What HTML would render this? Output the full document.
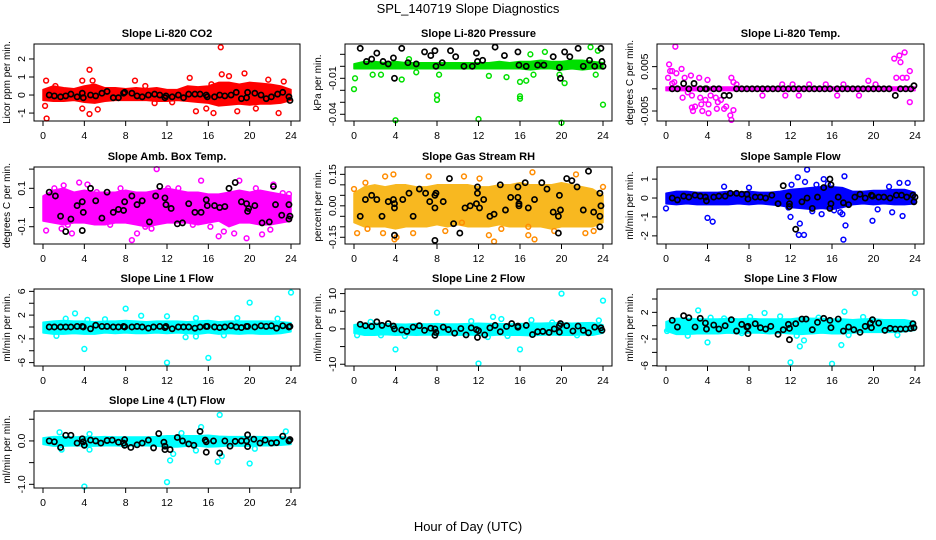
<!DOCTYPE html>
<html><head><meta charset="utf-8"><style>
html,body{margin:0;padding:0;background:#fff;}
svg{display:block;font-family:"Liberation Sans",sans-serif;}
</style></head><body>
<svg id="c" width="936" height="540" viewBox="0 0 936 540">
<text x="468" y="13" text-anchor="middle" font-size="13">SPL_140719  Slope Diagnostics</text>
<text x="468" y="531" text-anchor="middle" font-size="13">Hour of Day (UTC)</text>
</svg>
<script>
const xTicks=[0,4,8,12,16,20,24];
const bandHours=[0,1,2,3,4,5,6,7,8,9,10,11,12,13,14,15,16,17,18,19,20,21,22,23,24];

const p1Lo=[-0.3,-0.35,-0.35,-0.3,-0.4,-0.45,-0.35,-0.3,-0.3,-0.3,-0.3,-0.35,-0.35,-0.3,-0.35,-0.4,-0.45,-0.6,-0.55,-0.5,-0.55,-0.5,-0.5,-0.45,-0.3];
const p1Hi=[0.3,0.5,0.4,0.35,0.5,0.6,0.4,0.4,0.35,0.4,0.35,0.4,0.3,0.3,0.5,0.45,0.5,0.7,0.7,0.6,0.7,0.65,0.6,0.5,0.3];
const p1Pts=[[0.2,-0.6],[0.3,0.8],[0.35,-1.3],[3.8,0.8],[3.8,-0.75],[4.5,1.4],[4.5,-1.05],[5.3,-0.8],[8.9,0.8],[10.8,-0.45],[12.5,-0.4],[14.8,-0.9],[15.8,-0.75],[16.5,-1.0],[17.2,2.65],[17.3,1.15],[18,1.05],[18.8,-0.9],[19.5,1.2],[20.6,-0.75],[21.8,0.85],[22.8,-1.0],[23.3,0.75],[14.2,0.95],[4.8,0.8],[1.2,0.5],[9.9,0.5],[16.3,0.6]];
const p1Blk=[[0.6,0.0],[1.1,-0.05],[1.7,-0.1],[2.2,-0.05],[2.7,0.05],[3.3,-0.1],[3.8,0.1],[3.9,-0.15],[4.6,0.0],[5.1,-0.05],[5.7,0.1],[6.2,0.2],[6.8,-0.15],[7.3,-0.15],[7.8,0.1],[7.9,0.15],[8.6,0.1],[9.1,-0.05],[9.6,-0.1],[10.2,0.0],[10.8,0.05],[11.3,0.0],[11.8,-0.15],[11.9,-0.05],[12.5,-0.1],[13.1,0.0],[13.6,-0.15],[14.1,0.05],[14.7,0.05],[15.2,0.05],[15.8,0.0],[15.9,-0.1],[16.6,-0.1],[17.1,0.0],[17.6,-0.05],[18.2,0.0],[18.7,0.15],[19.2,-0.2],[19.7,-0.15],[19.8,0.15],[20.5,0.1],[21.1,0.0],[21.6,-0.2],[22.1,-0.1],[22.7,0.05],[23.2,0.15],[23.8,-0.1],[23.9,-0.3]];

const p2Lo=[-0.002,-0.002,-0.002,-0.002,-0.002,-0.002,-0.002,-0.002,-0.002,-0.002,-0.002,-0.002,-0.002,-0.002,-0.002,-0.002,-0.002,-0.003,-0.002,-0.002,-0.003,-0.002,-0.003,-0.002,-0.002];
const p2Hi=[0.002,0.004,0.004,0.003,0.004,0.003,0.003,0.003,0.003,0.003,0.003,0.003,0.003,0.003,0.004,0.003,0.004,0.004,0.005,0.004,0.004,0.005,0.005,0.004,0.003];
const p2Pts=[[0.1,-0.01],[0,-0.019],[1.8,-0.007],[4,-0.045],[4.6,-0.011],[8,-0.024],[8,-0.028],[8.2,-0.007],[12,-0.044],[13,-0.008],[14.7,-0.009],[16,-0.013],[16,-0.025],[16,-0.027],[16.6,-0.012],[18.4,0.012],[19.8,-0.007],[20,-0.047],[20.3,-0.014],[22.8,0.016],[23.3,-0.007],[24,-0.032],[23.5,0.013],[17,0.01],[5.3,0.006],[2.6,-0.007],[6,-0.005],[17.3,-0.007]];
const p2Blk=[[0.6,0.015],[1.2,0.004],[1.7,0.006],[2.2,0.011],[2.8,0.004],[3.3,0.002],[3.8,0.007],[3.9,-0.01],[4.6,0.015],[5.2,0.003],[6,0.002],[6.8,0.012],[7.4,0.009],[7.8,0.013],[7.9,0.0],[8.5,0.003],[9.3,0.013],[9.8,0.008],[10.6,0.0],[11.4,0.0],[11.8,0.011],[11.9,0.004],[12.4,0.005],[13.6,0.016],[14.5,0.009],[15.8,0.012],[15.9,0.001],[16.6,0.0],[17.7,0.001],[18.3,0.001],[19.2,0.008],[19.8,-0.001],[19.9,-0.01],[20.3,0.012],[20.8,0.008],[21.6,0.015],[22.1,0.0],[22.7,0.005],[23.2,0.0],[23.8,0.015],[23.9,0.004],[24,0.0]];

const p3Lo=[-0.0004,-0.0004,-0.0004,-0.0004,-0.0004,-0.0004,-0.0004,-0.0004,-0.0004,-0.0004,-0.0004,-0.0004,-0.0004,-0.0004,-0.0004,-0.0004,-0.0004,-0.0004,-0.0004,-0.0004,-0.0004,-0.0004,-0.0004,-0.0004,-0.0004];
const p3Hi=[0.0004,0.0004,0.0004,0.0004,0.0004,0.0004,0.0004,0.0004,0.0004,0.0004,0.0004,0.0004,0.0004,0.0004,0.0004,0.0004,0.0004,0.0004,0.0004,0.0004,0.0004,0.0004,0.0004,0.0004,0.0004];
const p3Pts=[[0.2,0.0025],[0.3,0.0055],[0.4,0.004],[0.6,0.004],[0.9,0.0095],[0.8,0.0015],[1,0.0035],[1.5,0.0045],[1.6,-0.002],[1.8,0.0025],[2.4,0.003],[2.5,-0.0015],[2.5,-0.0042],[2.6,-0.005],[2.8,-0.004],[3.2,0.0025],[3.3,-0.002],[3.4,-0.0035],[3.5,-0.005],[4,0.002],[4.1,-0.0055],[4.1,-0.0035],[4.3,-0.0015],[4.8,-0.002],[4.9,-0.0045],[5,-0.003],[5.6,-0.0045],[5.8,-0.004],[6.2,-0.006],[6.3,-0.007],[6.3,0.0025],[6.5,-0.0048],[6.5,0.0015],[6.8,0.001],[9.3,-0.0015],[11.2,0.001],[11.5,-0.0015],[12.2,0.001],[12.8,-0.0015],[13.8,0.001],[15.4,0.001],[16.5,-0.0015],[17.1,0.001],[18.6,-0.0015],[19.5,0.0018],[20.2,0.001],[22,0.0068],[22.2,0.0025],[22.5,0.0075],[22.6,0.006],[23,0.0082],[22.8,0.0025],[23.2,0.0025],[23.5,0.004],[23.5,-0.003],[0.6,0.0012],[2.1,-0.0008],[3.8,-0.0025],[5.3,-0.0025]];
const p3Blk=[[0.6,0],[1.1,0],[1.7,0.0012],[2.2,0],[2.7,0.0012],[3.3,0],[3.8,0],[3.9,0],[4.6,0],[5.1,0],[5.6,-0.0015],[6.1,-0.0015],[6.8,0],[7.3,0],[7.8,0],[8.3,0],[8.8,0],[9.3,0],[9.8,0],[10.3,0],[10.8,0],[11.3,0],[11.8,0],[12.3,0],[12.8,0],[13.3,0],[13.8,0],[14.3,0],[14.8,0],[15.3,0],[15.8,0],[16.5,0],[17.0,0],[17.5,0],[18.0,0],[18.5,0],[19.0,0],[19.5,0],[20.0,0],[20.5,0],[21.0,0],[21.5,0],[22.1,-0.0015],[22.6,0],[23.1,0],[23.6,0],[23.9,0.0007]];

const p4Lo=[-0.07,-0.08,-0.09,-0.08,-0.08,-0.09,-0.09,-0.08,-0.08,-0.09,-0.1,-0.09,-0.08,-0.08,-0.08,-0.09,-0.08,-0.07,-0.1,-0.08,-0.08,-0.09,-0.09,-0.08,-0.07];
const p4Hi=[0.06,0.09,0.1,0.08,0.09,0.08,0.08,0.08,0.09,0.08,0.08,0.09,0.1,0.09,0.08,0.08,0.07,0.07,0.08,0.09,0.08,0.09,0.08,0.07,0.06];
const p4Pts=[[0.3,-0.12],[1.8,-0.11],[2.8,-0.135],[3.5,0.13],[4.3,0.12],[8.6,-0.17],[9.1,-0.135],[11,0.2],[12.1,0.1],[17,-0.15],[17.5,-0.125],[18.5,-0.135],[19,0.14],[19.7,-0.16],[21.2,-0.14],[22,-0.115],[22.3,0.12],[23.2,0.075],[23.8,0.07],[2,0.115],[5.2,0.08],[15.3,0.14],[13.1,0.1],[6.5,-0.09],[10.5,-0.11],[1.1,0.1],[7.5,0.1],[14.5,-0.09],[16.2,-0.1],[20.6,0.1],[2.4,-0.09],[9.9,-0.1]];
const p4Blk=[[0.6,0.08],[1.2,0.06],[1.7,-0.045],[2.2,-0.125],[2.7,-0.06],[3.3,0.01],[3.8,0.03],[3.9,-0.025],[3.8,-0.12],[4.6,0.1],[5.1,0.035],[5.7,-0.055],[6.2,0.08],[6.8,-0.025],[7.3,-0.01],[7.8,-0.015],[7.9,0.03],[8.6,0.06],[9.1,0.015],[9.6,0.035],[10.3,-0.075],[10.9,0.06],[11.3,0.11],[11.8,0.05],[11.9,0.015],[12.4,-0.005],[13,-0.085],[13.5,-0.08],[14.1,0.02],[14.7,-0.025],[15.3,-0.025],[15.8,0.04],[15.9,0.01],[16.6,0.01],[17.1,0.0],[17.6,0.005],[18,0.1],[18.6,0.13],[19.2,0.03],[19.7,0.02],[19.8,-0.02],[19.9,-0.005],[20.5,0.01],[21.2,-0.08],[21.9,-0.075],[22.3,0.11],[22.5,0.015],[23.1,-0.04],[23.8,0.015],[23.9,-0.045],[23.8,-0.06]];

const p5Lo=[-0.08,-0.1,-0.1,-0.1,-0.11,-0.1,-0.1,-0.1,-0.09,-0.1,-0.09,-0.1,-0.1,-0.1,-0.09,-0.1,-0.1,-0.1,-0.1,-0.11,-0.1,-0.1,-0.1,-0.1,-0.08];
const p5Hi=[0.06,0.09,0.1,0.09,0.1,0.1,0.09,0.09,0.1,0.1,0.1,0.1,0.09,0.09,0.1,0.1,0.11,0.1,0.1,0.1,0.11,0.1,0.09,0.08,0.05];
const p5Pts=[[0,0.08],[0.3,-0.13],[1.3,-0.11],[2.8,-0.13],[3,0.14],[3.9,-0.16],[3.8,0.15],[4.1,-0.15],[7.2,0.14],[10.6,0.14],[12.1,0.13],[13.5,-0.17],[13,-0.14],[16.8,-0.1],[17.2,0.16],[17.4,-0.16],[21.4,0.15],[22.3,-0.13],[23.1,-0.12],[24,0.09],[10.4,-0.08],[14.2,-0.11],[1.1,0.11],[5.7,-0.13],[8.8,-0.12],[19.3,-0.12],[16.8,-0.14]];
const p5Blk=[[0.6,-0.05],[1.1,0.03],[1.7,0.05],[2.2,0.03],[2.7,-0.05],[3.3,0.02],[3.8,0.03],[3.9,0.01],[3.9,-0.01],[3.9,-0.14],[4.7,0.03],[5.3,0.06],[5.7,-0.05],[6.3,0.08],[6.9,0.06],[7.3,0.02],[7.8,-0.01],[7.8,0.05],[7.9,0.06],[7.8,-0.165],[8.6,0.02],[9.2,0.13],[9.6,-0.085],[10.2,-0.13],[10.7,-0.01],[11.2,0.0],[11.8,0.01],[11.9,0.09],[11.9,0.06],[12.1,-0.01],[12.5,0.03],[13.1,-0.05],[13.5,-0.04],[14.1,0.1],[14.6,-0.02],[15.1,0.04],[15.8,0.09],[15.8,0.04],[15.9,0.0],[15.9,0.01],[16.5,0.11],[16.8,-0.01],[17.4,0.03],[18.1,0.11],[18.6,0.08],[19.2,-0.03],[19.7,-0.05],[19.8,0.05],[19.9,-0.02],[19.7,-0.13],[20.5,0.13],[21,0.12],[21.5,0.09],[22.1,-0.02],[22.6,0.165],[23.1,-0.03],[23.7,0.06],[23.8,0.0],[23.7,-0.05],[23.7,-0.1]];

const p6Lo=[-0.3,-0.35,-0.3,-0.35,-0.35,-0.35,-0.35,-0.3,-0.35,-0.3,-0.35,-0.4,-0.5,-0.55,-0.6,-0.55,-0.6,-0.5,-0.35,-0.3,-0.35,-0.3,-0.35,-0.35,-0.3];
const p6Hi=[0.25,0.35,0.35,0.3,0.3,0.3,0.35,0.3,0.35,0.3,0.3,0.35,0.45,0.5,0.55,0.6,0.6,0.55,0.35,0.35,0.4,0.4,0.45,0.45,0.3];
const p6Pts=[[0,-0.55],[4,-1.05],[4.5,-1.25],[5.6,0.6],[8,0.55],[11.8,-0.5],[12,-1.0],[12.1,0.7],[12.7,1.1],[12.9,-1.35],[12.8,-1.95],[13.3,-1.95],[13.4,0.85],[13.6,1.5],[14.5,0.7],[15,-0.85],[15.2,1.0],[16,0.5],[16.8,-0.75],[17,-0.85],[17.1,-2.2],[17.2,1.15],[17.3,-1.45],[19.9,-1.2],[20.4,-0.6],[21.8,-0.75],[22.8,-0.95],[22.5,0.8],[23.3,0.8],[16.2,-0.65],[14.1,-0.7],[15.6,0.75],[21.5,0.6]];
const p6Blk=[[0.6,0.0],[1.1,-0.1],[1.7,0.1],[2.2,0.05],[2.8,0.15],[3.3,0.1],[3.8,0.05],[3.9,-0.15],[4.6,0.05],[5.1,0.1],[5.7,0.1],[6.2,0.25],[6.8,0.25],[7.3,0.2],[7.8,0.2],[7.9,-0.05],[8.6,0.05],[9.1,0.05],[9.6,0.0],[10.2,0.15],[10.8,-0.3],[11.3,0.65],[11.8,0.1],[11.9,-0.3],[11.9,-0.45],[12.5,-1.65],[13.1,-0.2],[13.6,0.0],[14.1,-0.55],[14.6,0.05],[15.2,0.55],[15.8,1.0],[15.9,0.7],[15.9,-0.3],[15.8,-0.55],[16.6,0.05],[17.1,-0.25],[17.6,-0.35],[18.2,0.05],[18.7,0.2],[19.2,0.0],[19.8,0.15],[19.9,0.1],[20.5,0.05],[21,0.05],[21.6,0.0],[22.2,0.15],[22.7,0.15],[23.2,0.05],[23.8,0.15],[23.9,-0.2],[24,0.05]];

const p7Lo=[-1.0,-1.2,-1.2,-1.1,-1.2,-1.2,-1.0,-1.1,-1.0,-1.1,-1.1,-1.0,-1.1,-1.0,-1.1,-1.2,-1.0,-1.2,-1.1,-1.2,-1.1,-1.2,-1.2,-1.1,-0.8];
const p7Hi=[0.8,1.0,1.1,1.0,1.0,0.9,1.0,1.0,1.1,1.0,0.9,1.0,1.0,1.0,0.9,1.0,1.1,0.9,1.0,1.0,1.0,1.0,1.0,0.9,0.7];
const p7Pts=[[1.3,-1.5],[3.1,2.3],[4,-3.7],[4.3,1.2],[8,3.1],[9.5,1.9],[12,-6],[12,1.8],[13.8,-1.7],[14.8,-1.6],[14.8,1.5],[16,-5.2],[20,4.1],[24,5.8],[17.5,-1.4],[2.2,1.4],[6,1.3],[18.8,1.5],[22.7,1.4]];
const p7Blk=[[0.6,0],[1.1,0],[1.7,0],[2.2,0],[2.7,0],[3.3,0.1],[3.8,0.1],[3.9,0],[4.6,-0.3],[5.1,0.3],[5.7,0.1],[6.2,0.1],[6.8,0],[7.3,0],[7.8,0.1],[7.9,0],[8.6,0],[9.1,0.1],[9.6,0],[10.2,-0.2],[10.7,0],[11.3,0.1],[11.8,-0.1],[11.9,0.1],[12.5,-0.3],[13.1,0],[13.6,0],[14.1,0],[14.7,-0.2],[15.2,0],[15.8,0.1],[15.9,0.1],[16.6,0],[17.1,-0.1],[17.6,0],[18.2,0.2],[18.7,0],[19.2,-0.1],[19.7,0.1],[19.8,0.1],[20.5,0],[21.1,0.2],[21.6,0.1],[22.1,0.2],[22.6,-0.2],[23.2,0.2],[23.8,0],[23.9,0.1]];

const p8Lo=[-1.2,-1.8,-1.8,-1.6,-1.8,-1.7,-1.8,-1.7,-1.8,-1.7,-1.8,-1.7,-1.8,-1.9,-1.7,-1.8,-1.8,-1.9,-1.8,-1.7,-1.8,-1.8,-1.7,-1.8,-1.2];
const p8Hi=[1.2,1.6,1.6,1.5,1.4,1.3,1.5,1.4,1.5,1.4,1.4,1.5,1.6,1.5,1.5,1.4,1.5,1.6,1.6,1.7,1.7,1.6,1.7,1.8,1.2];
const p8Pts=[[0.3,-1.8],[1.6,2],[4,-5.8],[4.9,-2],[8,4.6],[11.3,2.2],[12,-9.8],[13.4,3.4],[14.2,2.8],[14.8,-2.0],[16,-5.8],[17.1,2.5],[20,10],[21.5,-1.8],[23.6,2.4],[24,8],[2.6,-1.8],[12.9,-2.3],[19.1,1.8]];
const p8Blk=[[0.6,1.3],[1.1,0.9],[1.7,0.7],[2.2,2.0],[2.7,1.0],[3.3,1.5],[3.8,0.8],[3.9,0.0],[4.6,-0.3],[5.1,-0.7],[5.7,0.5],[6.3,0.9],[6.8,-0.4],[7.4,0.2],[7.8,0.0],[7.8,-1.8],[7.9,-1.0],[8.6,0.5],[9.1,-0.2],[9.7,-1.2],[10.3,0.1],[10.8,-1.7],[11.3,0.3],[11.8,-0.2],[11.9,-2.4],[12,-0.5],[12.6,-1.7],[13.1,0.3],[13.6,1.0],[14.1,-0.8],[14.7,0.7],[15.2,1.5],[15.8,0.5],[15.8,0.8],[16.6,1.0],[17.2,-1.6],[17.7,-0.8],[18.2,-0.7],[18.8,-1.0],[19.3,0.0],[19.8,-0.9],[19.8,0.9],[19.9,1.5],[20.5,0.9],[21.1,-0.6],[21.6,0.8],[22.1,-0.4],[22.6,-1.1],[23.2,0.5],[23.8,0.3],[23.9,-0.4]];

const p9Lo=[-0.8,-1.3,-1.3,-1.2,-1.2,-1.2,-1.1,-1.2,-1.1,-1.1,-1.2,-1.1,-1.2,-1.3,-1.2,-1.1,-1.2,-1.2,-1.1,-1.0,-1.0,-1.0,-1.0,-0.9,-0.7];
const p9Hi=[0.6,1.1,1.1,1.0,1.0,1.0,1.1,1.0,1.1,1.0,1.0,1.0,1.0,1.2,1.1,1.1,1.0,1.0,0.9,1.0,1.0,0.9,0.9,0.9,0.6];
const p9Pts=[[0.1,-0.8],[3.1,2.3],[4,-2.5],[4.3,1.2],[9.5,1.9],[12,-5.5],[12.9,-3.1],[13.3,-2.2],[16,-5.7],[16.9,-2.9],[17.2,2.1],[24,4.9],[11,1.4],[19,1.3],[14.7,1.2],[2.1,-1.5],[7.3,-1.1],[12.6,-1.5],[17.6,-1.4],[22.3,-1.4],[5.6,1.1],[8.1,1.3]];
const p9Blk=[[0.6,0.8],[1.1,-0.2],[1.7,1.5],[2.2,1.2],[2.8,-0.2],[3.3,1.1],[3.8,0.4],[3.9,-0.5],[4.6,0.1],[5.1,-0.5],[5.7,0.0],[6.3,0.9],[6.8,-0.8],[7.3,0.2],[7.8,-0.2],[7.9,-1.2],[7.9,-0.1],[8.6,0.3],[9.1,-0.3],[9.6,-0.5],[10.1,-0.1],[10.8,-1.3],[11.3,-0.6],[11.8,0.2],[11.9,-0.4],[11.9,-2.1],[12.5,0.3],[13.1,1.0],[13.5,1.0],[14.1,-0.6],[14.6,0.5],[15.2,1.1],[15.8,0.8],[15.9,-0.3],[16.6,1.0],[17.1,-0.8],[17.6,-0.2],[18.1,-0.6],[18.7,-1.0],[19.2,-0.1],[19.7,0.4],[19.8,-0.3],[19.9,0.9],[20.5,0.4],[21.1,-0.7],[21.6,-0.4],[22.1,-0.5],[22.6,-0.5],[23.1,-0.5],[23.6,-0.4],[23.9,-0.3],[23.8,0.3]];

const p10Lo=[-0.08,-0.12,-0.12,-0.11,-0.12,-0.12,-0.11,-0.11,-0.12,-0.11,-0.11,-0.12,-0.14,-0.14,-0.12,-0.12,-0.14,-0.13,-0.11,-0.12,-0.12,-0.11,-0.11,-0.1,-0.08];
const p10Hi=[0.07,0.1,0.1,0.09,0.1,0.09,0.1,0.09,0.09,0.09,0.09,0.1,0.12,0.12,0.12,0.12,0.13,0.11,0.1,0.1,0.1,0.1,0.09,0.1,0.07];
const p10Pts=[[1.8,-0.2],[4,-1.05],[4.5,-0.2],[12,-0.95],[12.3,-0.45],[12.6,-0.3],[15.3,0.32],[16.9,-0.48],[17.1,0.6],[17.3,-0.35],[20,-0.52],[23.5,0.22],[1.6,0.2],[14.8,-0.22],[13.4,0.18],[4.5,0.16],[20.5,-0.18]];
const p10Blk=[[0.6,0.0],[1.1,-0.02],[1.7,-0.15],[2.2,0.13],[2.7,0.13],[3.3,-0.05],[3.8,0.05],[3.9,-0.02],[4,-0.1],[4.6,0.02],[5.1,0.0],[5.6,-0.05],[6.2,0.01],[6.7,0.02],[7.3,-0.03],[7.8,-0.05],[7.9,0.03],[7.9,-0.1],[8.5,-0.15],[9.1,-0.09],[9.6,-0.05],[10.2,0.02],[10.7,-0.16],[11.2,0.17],[11.7,-0.03],[11.8,-0.12],[11.8,-0.2],[12.3,-0.2],[13,0.08],[13.5,0.0],[14.1,-0.07],[14.6,-0.1],[15.2,0.22],[15.7,0.02],[15.8,-0.02],[15.8,-0.26],[16.5,0.0],[17.1,-0.28],[17.6,0.0],[18.1,-0.12],[18.6,-0.01],[19.2,0.0],[19.7,0.0],[19.8,-0.13],[19.8,0.14],[20.4,0.04],[21,-0.05],[21.5,0.02],[22.1,-0.05],[22.6,-0.04],[23.2,0.11],[23.8,0.0],[23.9,0.03]];

const panels=[
 {id:'li820-co2',title:'Slope Li-820 CO2',ylab:'Licor ppm per min.',col:0,row:0,ymin:-1.44,ymax:2.83,ticks:[-1,0,1,2],labels:['-1','0','1','2'],color:'#ff0000',lo:p1Lo,hi:p1Hi,pts:p1Pts,blk:p1Blk},
 {id:'li820-pressure',title:'Slope Li-820 Pressure',ylab:'kPa per min.',col:1,row:0,ymin:-0.0456,ymax:0.0186,ticks:[0.01,0,-0.01,-0.02,-0.03,-0.04],labels:['','','-0.01','','','-0.04'],color:'#00e000',lo:p2Lo,hi:p2Hi,pts:p2Pts,blk:p2Blk},
 {id:'li820-temp',title:'Slope Li-820 Temp.',ylab:'degrees C per min.',col:2,row:0,ymin:-0.00725,ymax:0.0101,ticks:[0.005,0,-0.005],labels:['0.005','','-0.005'],color:'#ff00ff',lo:p3Lo,hi:p3Hi,pts:p3Pts,blk:p3Blk},
 {id:'amb-box-temp',title:'Slope Amb. Box Temp.',ylab:'degrees C per min.',col:0,row:1,ymin:-0.19,ymax:0.211,ticks:[0.2,0.1,0,-0.1],labels:['','0.1','','-0.1'],color:'#ff00ff',lo:p4Lo,hi:p4Hi,pts:p4Pts,blk:p4Blk},
 {id:'gas-stream-rh',title:'Slope Gas Stream RH',ylab:'percent per min.',col:1,row:1,ymin:-0.182,ymax:0.185,ticks:[0.15,0.1,0.05,0,-0.05,-0.1,-0.15],labels:['0.15','','','0.00','','','-0.15'],color:'#ffa500',lo:p5Lo,hi:p5Hi,pts:p5Pts,blk:p5Blk},
 {id:'sample-flow',title:'Slope Sample Flow',ylab:'ml/min per min.',col:2,row:1,ymin:-2.43,ymax:1.64,ticks:[1,0,-1,-2],labels:['1','0','-1','-2'],color:'#0000ff',lo:p6Lo,hi:p6Hi,pts:p6Pts,blk:p6Blk},
 {id:'line1-flow',title:'Slope Line 1 Flow',ylab:'ml/min per min.',col:0,row:2,ymin:-6.57,ymax:6.4,ticks:[6,4,2,0,-2,-4,-6],labels:['6','','2','','-2','','-6'],color:'#00ffff',lo:p7Lo,hi:p7Hi,pts:p7Pts,blk:p7Blk},
 {id:'line2-flow',title:'Slope Line 2 Flow',ylab:'ml/min per min.',col:1,row:2,ymin:-10.5,ymax:11.3,ticks:[10,5,0,-5,-10],labels:['10','5','0','','-10'],color:'#00ffff',lo:p8Lo,hi:p8Hi,pts:p8Pts,blk:p8Blk},
 {id:'line3-flow',title:'Slope Line 3 Flow',ylab:'ml/min per min.',col:2,row:2,ymin:-6.04,ymax:5.5,ticks:[4,2,0,-2,-4,-6],labels:['','2','','-2','','-6'],color:'#00ffff',lo:p9Lo,hi:p9Hi,pts:p9Pts,blk:p9Blk},
 {id:'line4-flow',title:'Slope Line 4 (LT) Flow',ylab:'ml/min per min.',col:0,row:3,ymin:-1.085,ymax:0.69,ticks:[0.5,0,-0.5,-1],labels:['','0.0','','-1.0'],color:'#00ffff',lo:p10Lo,hi:p10Hi,pts:p10Pts,blk:p10Blk}
];
const colL=[34,345,657], colR=[300,612,924], rowT=[44,167,289,411], H=77;
const NS='http://www.w3.org/2000/svg';
const svg=document.getElementById('c');
function mk(tag,attrs,parent){const e=document.createElementNS(NS,tag);for(const k in attrs)e.setAttribute(k,attrs[k]);parent.appendChild(e);return e;}
panels.forEach(p=>{
 const L=colL[p.col],R=colR[p.col],T=rowT[p.row],B=T+H;
 const xs=h=>L+9+(R-L-18)*h/24;
 const ys=v=>B-(v-p.ymin)/(p.ymax-p.ymin)*H;
 const g=mk('g',{},svg);
 
 
 const t=mk('text',{x:(L+R)/2,y:T-7,'text-anchor':'middle','font-size':'11','font-weight':'bold'},g);
 t.textContent=p.title;
 
 
 let d='';
 bandHours.forEach((h,i)=>{d+=(i?'L':'M')+xs(h).toFixed(1)+','+ys(p.hi[i]).toFixed(1);});
 for(let i=bandHours.length-1;i>=0;i--){d+='L'+xs(bandHours[i]).toFixed(1)+','+ys(p.lo[i]).toFixed(1);}
 const band=mk('path',{d:d+'Z',fill:p.color,stroke:p.color,'stroke-width':'1.5','stroke-linejoin':'round'},g);
 
 
 if(p.id==='gas-stream-rh'){band.setAttribute('fill','#f8b820');band.setAttribute('stroke','#f8b820');}
 const ring=p.id==='gas-stream-rh'?'#ff8c00':p.color;
 p.pts.forEach(q=>{
  const c=mk('circle',{cx:xs(q[0]),cy:ys(q[1]),r:2.4,fill:'none',stroke:ring,'stroke-width':'1.5'},g);
  
  
 });
 p.blk.forEach(q=>{
  const c=mk('circle',{cx:xs(q[0]),cy:ys(q[1]),r:2.6,fill:'none',stroke:'#000','stroke-width':'1.7'},g);
  
  
 });
 const box=mk('rect',{x:L,y:T,width:R-L,height:H,fill:'none',stroke:'#000','stroke-width':'1'},g);
 
 
 xTicks.forEach(h=>{
  mk('line',{x1:xs(h),x2:xs(h),y1:B,y2:B+5,stroke:'#000'},g);
  const tl=mk('text',{x:xs(h),y:B+18,'text-anchor':'middle','font-size':'10.5'},g);
  tl.textContent=h;
  
  
 });
 p.ticks.forEach((v,i)=>{
  const y=ys(v);
  mk('line',{x1:L-5,x2:L,y1:y,y2:y,stroke:'#000'},g);
  if(p.labels[i]){
   const tl=mk('text',{x:0,y:0,'text-anchor':'middle','font-size':'10.5',transform:'translate('+(L-9)+','+y+') rotate(-90)'},g);
   tl.textContent=p.labels[i];
   
   
  }
 });
 const yl=mk('text',{x:0,y:0,'text-anchor':'middle','font-size':'10',transform:'translate('+(L-24)+','+(T+H/2)+') rotate(-90)'},g);
 yl.textContent=p.ylab;
 
 
});
</script>
</body></html>
